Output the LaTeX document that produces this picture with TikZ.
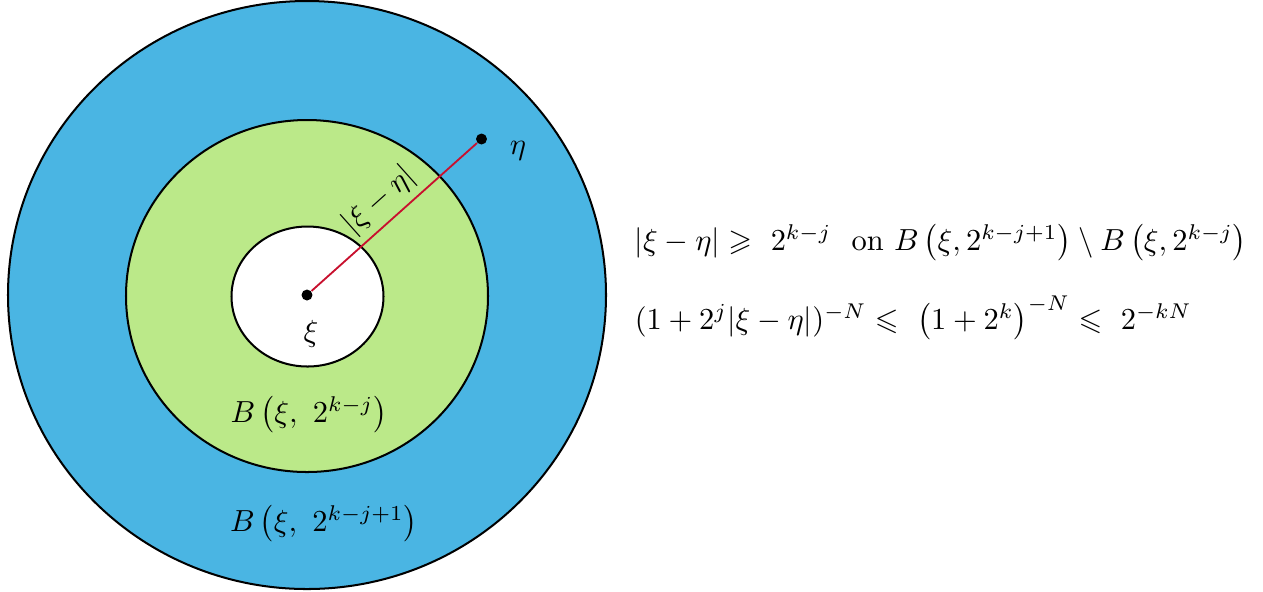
\documentclass[tikz,border=0pt]{standalone}
\usepackage{amsmath,amssymb}
\usetikzlibrary{positioning}
\definecolor{outerc}{HTML}{4AB5E3}
\definecolor{innerc}{HTML}{BBE989}
\definecolor{segc}{HTML}{C8102E}
\tikzset{
  ring/.style={draw=black, line width=0.66pt},
  pt/.style={circle, fill=black, inner sep=0pt, minimum size=3.6pt},
  seg/.style={segc, line width=0.6pt},
  lbl/.style={inner sep=1pt},
}
\begin{document}
\begin{tikzpicture}[x=0.328pt, y=-0.328pt]
  \useasboundingbox (0,0) rectangle (1263,591);
  % balls around xi
  \filldraw[ring, fill=outerc] (307,295) ellipse [x radius=299, y radius=294];
  \filldraw[ring, fill=innerc] (307,296) ellipse [x radius=181, y radius=176];
  \filldraw[ring, fill=white] (307.5,296.5) ellipse [x radius=76, y radius=70];
  % points and distance
  \node[pt] (xi) at (307,295) {};
  \node[pt] (eta) at (481.5,139) {};
  \draw[seg] (xi) -- node[sloped, above, pos=0.5, text=black, inner sep=2pt] {$|\xi-\eta|$} (eta);
  \node[lbl] (xilbl) at (311,334) {$\xi$};
  \node[lbl] (etalbl) at (518,151) {$\eta$};
  \node (inner) at (309,415) {$B\left(\xi,\ 2^{k-j}\right)$};
  \node (outer) at (324,524) {$B\left(\xi,\ 2^{k-j+1}\right)$};
  % estimates
  \node[anchor=west] (est1) at (624,243) {$|\xi-\eta| \geqslant\ 2^{k-j}$\ \ on $B\left(\xi,2^{k-j+1}\right)\setminus B\left(\xi,2^{k-j}\right)$};
  \node[anchor=west] (est2) at (624,318) {$(1+2^j|\xi-\eta|)^{-N} \leqslant\ \left(1+2^k\right)^{-N} \leqslant\ 2^{-kN}$};
\end{tikzpicture}
\end{document}
